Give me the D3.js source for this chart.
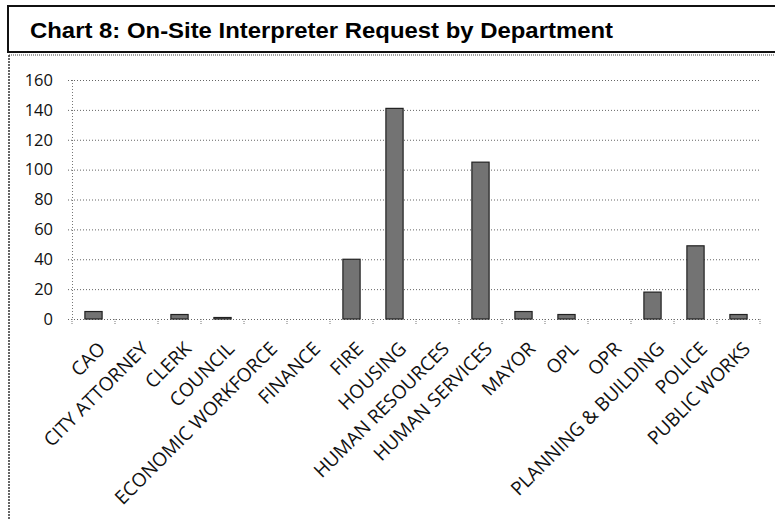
<!DOCTYPE html>
<html>
<head>
<meta charset="utf-8">
<script src="https://cdn.jsdelivr.net/npm/d3@7"></script>
<style>
  body { margin: 0; background: #fff; }
  svg { display: block; }
</style>
</head>
<body>
<svg id="mainsvg" width="775" height="519"></svg>
<script>
// values
var departments = ["CAO", "CITY ATTORNEY", "CLERK", "COUNCIL", "ECONOMIC WORKFORCE",
    "FINANCE", "FIRE", "HOUSING", "HUMAN RESOURCES", "HUMAN SERVICES", "MAYOR",
    "OPL", "OPR", "PLANNING & BUILDING", "POLICE", "PUBLIC WORKS"];
var requests = [5, 0, 3, 1, 0, 0, 40, 141, 0, 105, 5, 3, 0, 18, 49, 3];
var yTicks = [0, 20, 40, 60, 80, 100, 120, 140, 160];
var title = "Chart 8: On-Site Interpreter Request by Department";

var svg = d3.select("#mainsvg");

// title box
svg.append("rect")
    .attr("x", 8).attr("y", 6)
    .attr("width", 800).attr("height", 46)
    .style("fill", "none")
    .style("stroke", "#111")
    .style("stroke-width", 2);

svg.append("text")
    .attr("x", 30).attr("y", 38)
    .attr("textLength", 583)
    .attr("lengthAdjust", "spacingAndGlyphs")
    .text(title)
    .style("font-family", "'Liberation Sans', Arial, sans-serif")
    .style("font-weight", "bold")
    .style("font-size", "22px")
    .style("fill", "#000");

// dotted frame of the chart area
svg.append("line")
    .attr("x1", 9).attr("x2", 775).attr("y1", 55).attr("y2", 55)
    .style("stroke", "#444").style("stroke-dasharray", "1,1");
svg.append("line")
    .attr("x1", 9).attr("x2", 9).attr("y1", 55).attr("y2", 519)
    .style("stroke", "#333").style("stroke-width", 1.5).style("stroke-dasharray", "2,1");

var x = d3.scaleBand()
    .domain(departments)
    .range([72, 760])
    .paddingInner(0.6)
    .paddingOuter(0.3);

var y = d3.scaleLinear()
    .domain([0, 160])
    .range([319, 80]);

// grid lines
svg.append("g")
    .selectAll("line")
    .data(yTicks)
    .enter().append("line")
    .attr("x1", 68).attr("x2", 760)
    .attr("y1", function(d){ return y(d) + 0.5; })
    .attr("y2", function(d){ return y(d) + 0.5; })
    .style("stroke", "#666")
    .style("stroke-dasharray", "1,2");

// y axis line
svg.append("line")
    .attr("x1", 72.5).attr("x2", 72.5)
    .attr("y1", 80).attr("y2", 319)
    .style("stroke", "#777")
    .style("stroke-dasharray", "1,2");

var yAxis = d3.axisLeft(y)
    .tickValues(yTicks)
    .tickSize(0)
    .tickPadding(0);

var yg = svg.append("g")
    .attr("transform", "translate(53,0)")
    .call(yAxis);
yg.select(".domain").remove();
yg.selectAll("text")
    .style("font-family", "'Open Sans', sans-serif")
    .style("font-size", "16.5px")
    .style("fill", "#111");

// category boundary ticks
var bounds = departments.map(function(d){ return x(d) - x.step() * x.paddingInner() / 2; });
bounds.push(760);
svg.append("g")
    .selectAll("line")
    .data(bounds)
    .enter().append("line")
    .attr("x1", function(d){ return d; })
    .attr("x2", function(d){ return d; })
    .attr("y1", 319).attr("y2", 325)
    .style("stroke", "#777")
    .style("stroke-dasharray", "1,1");

// bars
svg.append("g")
    .selectAll("rect")
    .data(requests)
    .enter().append("rect")
    .attr("x", function(d, i){ return x(departments[i]); })
    .attr("width", x.bandwidth())
    .attr("y", function(d){ return y(d); })
    .attr("height", function(d){ return y(0) - y(d); })
    .style("fill", "#737373")
    .style("stroke", "#222")
    .style("stroke-width", 1.2)
    .style("display", function(d){ return d > 0 ? null : "none"; });

// x labels
var xAxis = d3.axisBottom(x).tickSize(0).tickPadding(0);
var xg = svg.append("g")
    .attr("transform", "translate(0,319)")
    .call(xAxis);
xg.select(".domain").remove();
xg.selectAll("text")
    .attr("y", 0)
    .attr("dy", 0)
    .attr("transform", "translate(13,31) rotate(-45)")
    .style("text-anchor", "end")
    .style("font-family", "'Open Sans', sans-serif")
    .style("font-size", "19px")
    .style("fill", "#111");
</script>
</body>
</html>
